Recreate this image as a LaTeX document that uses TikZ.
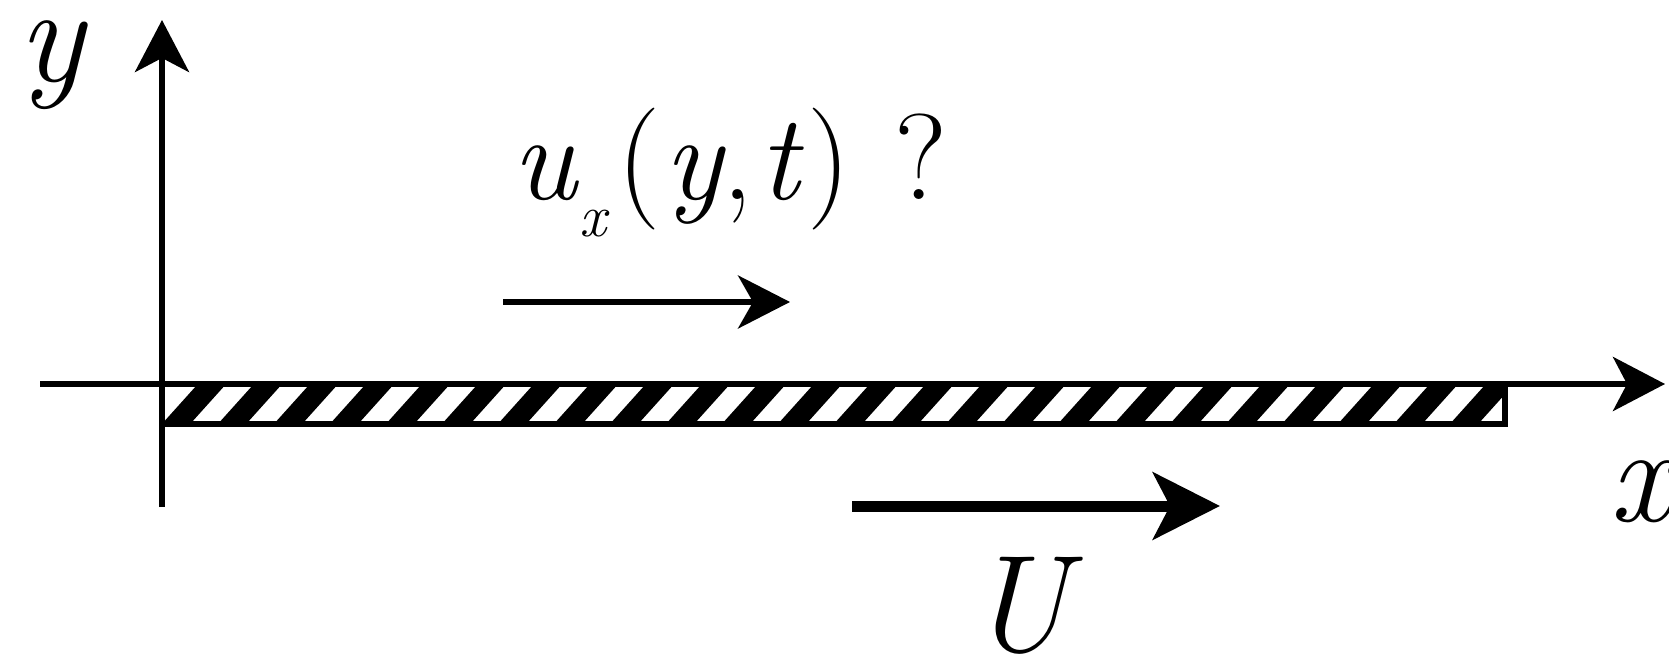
\documentclass[tikz,border=0pt]{standalone}
\usepackage{fontspec}
\usetikzlibrary{arrows.meta}

\begin{document}
\begin{tikzpicture}[
  x=0.5pt, y=-0.5pt,
  axis/.style={line width=3pt, -{Stealth[length=26pt, width=27pt, inset=7pt]}},
  flow/.style={line width=2.75pt, -{Stealth[length=26pt, width=26.5pt, inset=7.5pt]}},
  wall/.style={line width=5.5pt, -{Stealth[length=33.5pt, width=33.5pt, inset=8.5pt]}},
  plate/.style={line width=3pt},
  hatch/.style={line width=10.5pt},
  lbl/.style={inner sep=0pt, font=\fontsize{69}{72}\selectfont\itshape},
]
\useasboundingbox (0,0) rectangle (1669,657);
% axes
\coordinate (O) at (162,384);
\coordinate (xstart) at (40,384);
\coordinate (xend) at (1665,384);
\coordinate (ystart) at (162,507);
\coordinate (yend) at (162,20);
% plate
\coordinate (pend) at (1505,424);
\begin{scope}
  \clip (O) rectangle (pend);
  \foreach \k in {0,...,24}
    \draw[hatch] ({176+56*\k-9},434) -- ({176+56*\k+45},374);
\end{scope}
\draw[plate] (O) rectangle (pend);
\draw[axis] (xstart) -- (xend);
\draw[axis] (ystart) -- (yend);
% velocities
\coordinate (ua) at (503,302);
\coordinate (ub) at (790,302);
\draw[flow] (ua) -- (ub);
\coordinate (Ua) at (852,506);
\coordinate (Ub) at (1220,506);
\draw[wall] (Ua) -- (Ub);
% labels
\node[lbl] (ylab) at (51,65) {y};
\node[lbl] (xlab) at (1641,492) {x};
\node[lbl] (Ulab) at (1019,606) {U};
\node[inner sep=0pt, anchor=base west, font=\fontsize{61}{64}\selectfont] (ulab) at (512,200)
  {\textit{u}\raisebox{-18.5pt}{\fontsize{30}{30}\selectfont\textit{x}}\kern4pt(\kern2pt\textit{y},\kern3pt\textit{t}\kern2pt)\hspace{0.36em}?};
\end{tikzpicture}
\end{document}
